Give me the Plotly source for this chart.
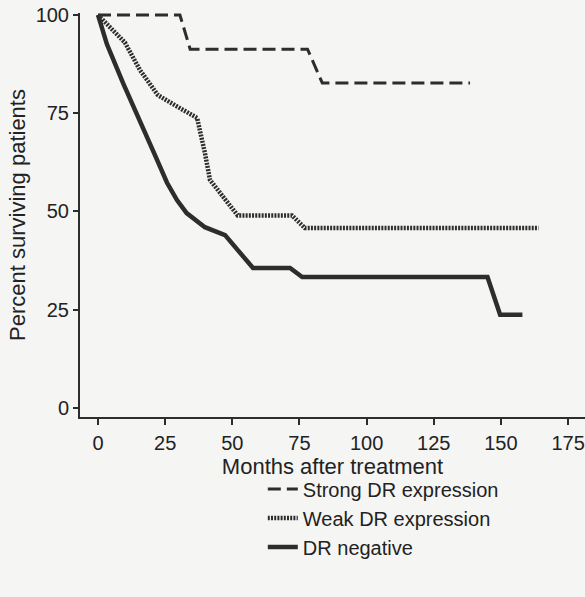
import plotly.graph_objects as go

# Data (months after treatment, percent surviving)
strong_x = [0, 30.5, 34.3, 78, 83.5, 138.5]
strong_y = [100, 100, 91.3, 91.3, 82.7, 82.7]

weak_x = [0, 10, 15.6, 22.3, 28.7, 36.9, 39.8, 41.7, 52, 72.2, 77, 164]
weak_y = [100, 93, 86, 79.6, 77, 73.8, 64.9, 58, 49, 49, 45.8, 45.8]

neg_x = [0, 3.3, 9.3, 15.6, 21.5, 25.7, 29.4, 33, 39.8, 47.3, 57.7, 71.5, 76, 145, 149.7, 158]
neg_y = [100, 92.6, 82.7, 73.3, 63.9, 57.3, 52.9, 49.6, 46, 44, 35.6, 35.6, 33.3, 33.3, 23.7, 23.7]

series_names = ["Strong DR expression", "Weak DR expression", "DR negative"]
x_ticks = [0, 25, 50, 75, 100, 125, 150, 175]
y_ticks = [0, 25, 50, 75, 100]

ink = "#2d2d2d"
bg = "#f5f5f3"
font_family = "Liberation Sans, Arial, sans-serif"

fig = go.Figure()
fig.add_trace(go.Scatter(x=strong_x, y=strong_y, mode="lines", name=series_names[0],
                         line=dict(color=ink, width=3, dash="13px,6px")))
fig.add_trace(go.Scatter(x=weak_x, y=weak_y, mode="lines", name=series_names[1],
                         line=dict(color=ink, width=4.5, dash="2px,1.2px")))
fig.add_trace(go.Scatter(x=neg_x, y=neg_y, mode="lines", name=series_names[2],
                         line=dict(color=ink, width=4.5)))

fig.update_layout(
    width=585, height=597,
    margin=dict(l=80, r=0, t=13, b=180),
    paper_bgcolor=bg, plot_bgcolor=bg,
    font=dict(family=font_family, color="#222222", size=20),
    showlegend=True,
    legend=dict(x=0.362, y=-0.13, xanchor="left", yanchor="top",
                bgcolor="rgba(0,0,0,0)", font=dict(size=20), itemwidth=30,
                traceorder="normal"),
    xaxis=dict(range=[-6.7, 181.3], tickvals=x_ticks, ticks="outside", ticklen=6,
               tickwidth=1.5, tickcolor=ink, showline=True, linecolor=ink, linewidth=2,
               showgrid=False, zeroline=False, ticklabelstandoff=1,
               tickfont=dict(size=20),
               title=dict(text="Months after treatment", font=dict(size=22), standoff=6)),
    yaxis=dict(range=[-2.3, 100.5], tickvals=y_ticks, ticks="outside", ticklen=5,
               tickwidth=1.5, tickcolor=ink, showline=True, linecolor=ink, linewidth=2,
               showgrid=False, zeroline=False, tickfont=dict(size=20),
               title=dict(text="Percent surviving patients", font=dict(size=22), standoff=4)),
)

fig.write_html("out.html")
